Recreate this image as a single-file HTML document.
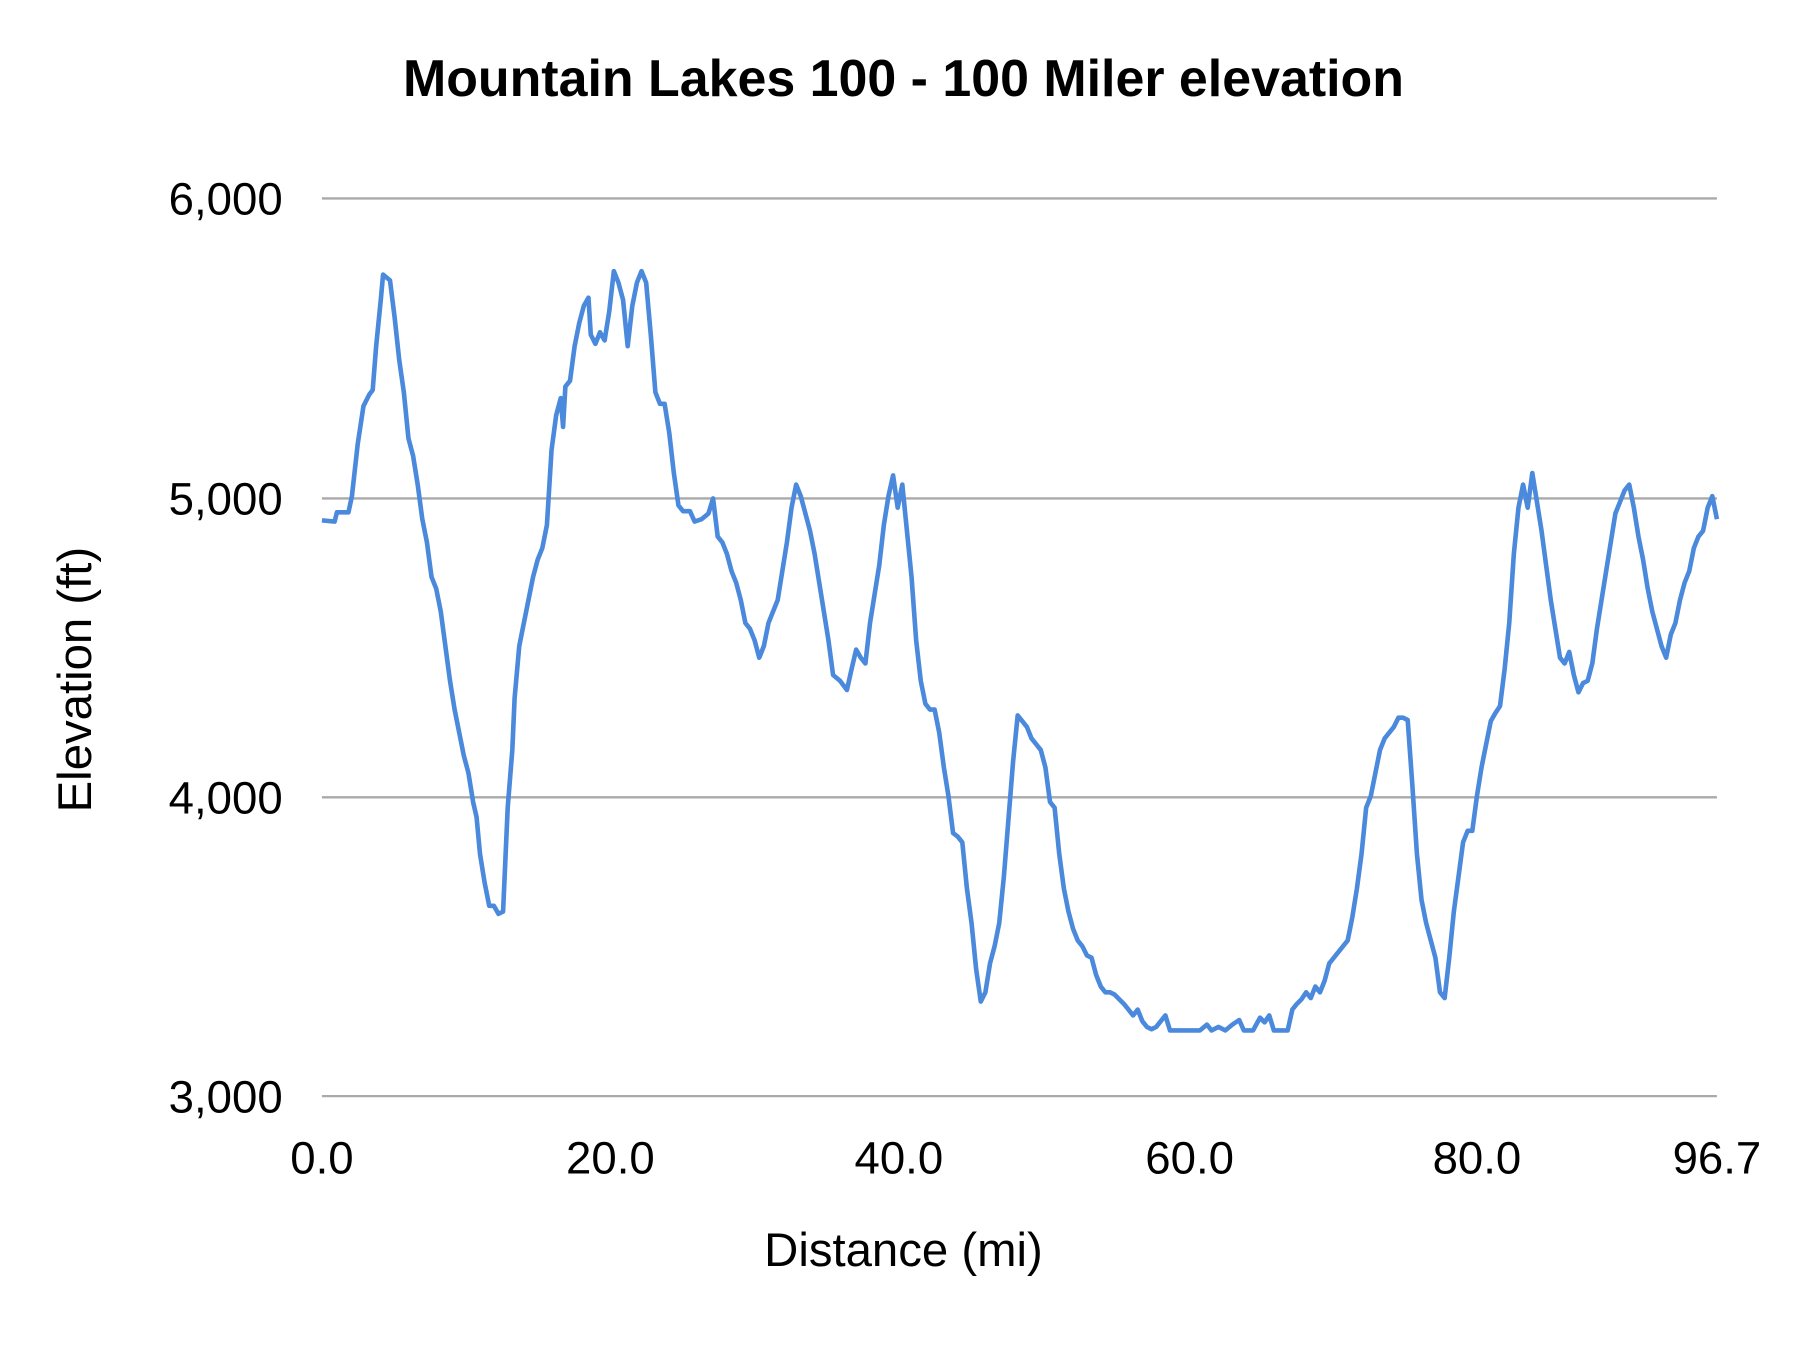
<!DOCTYPE html>
<html><head><meta charset="utf-8"><style>
html,body{margin:0;padding:0;background:#fff;}
svg{display:block;}
text{font-family:"Liberation Sans",Arial,sans-serif;fill:#000;}
</style></head><body>
<svg width="1800" height="1350" viewBox="0 0 1560 1170" xmlns="http://www.w3.org/2000/svg">
<rect width="1560" height="1170" fill="#fff"/>
<text x="783" y="83" font-size="45" font-weight="bold" text-anchor="middle">Mountain Lakes 100 - 100 Miler elevation</text>
<g stroke="#aaaaaa" stroke-width="2">
<line x1="279" y1="172" x2="1488" y2="172"/>
<line x1="279" y1="432" x2="1488" y2="432"/>
<line x1="279" y1="691" x2="1488" y2="691"/>
<line x1="279" y1="950" x2="1488" y2="950"/>
</g>
<g font-size="39.5" text-anchor="end">
<text x="245" y="186">6,000</text>
<text x="245" y="446">5,000</text>
<text x="245" y="705">4,000</text>
<text x="245" y="964">3,000</text>
</g>
<g font-size="39.5" text-anchor="middle">
<text x="279" y="1017">0.0</text>
<text x="529" y="1017">20.0</text>
<text x="779" y="1017">40.0</text>
<text x="1031" y="1017">60.0</text>
<text x="1280" y="1017">80.0</text>
<text x="1488" y="1017">96.7</text>
</g>
<text x="783" y="1097" font-size="41" text-anchor="middle">Distance (mi)</text>
<text transform="translate(79,589) rotate(-90)" font-size="41" text-anchor="middle">Elevation (ft)</text>
<polyline fill="none" stroke="#4a89dc" stroke-width="4" stroke-linejoin="round" points="279,451 290,452 292,444 302,444 305,430 310,385 315,352 320,342 323,338 326,300 330,260 332,238 338,243 342,275 346,312 350,340 354,380 358,395 362,420 366,450 370,470 374,500 378,510 382,530 386,560 390,590 394,615 398,635 402,655 406,670 410,695 413,708 416,740 420,765 424,785 428,785 432,792 436,790 440,700 444,650 446,605 450,560 454,540 458,520 462,500 466,485 470,475 474,455 478,390 482,360 486,345 488,370 490,335 494,330 498,300 502,280 506,265 510,258 512,290 516,298 520,288 524,295 528,270 532,235 536,245 540,260 544,300 548,265 552,245 556,235 560,245 564,290 568,340 572,350 576,350 580,375 584,410 588,438 592,443 598,443 602,452 608,450 614,445 618,432 622,465 626,470 630,480 634,495 638,505 642,520 646,540 650,545 654,555 658,570 662,560 666,540 670,530 674,520 678,495 682,470 686,440 690,420 694,430 698,445 702,460 706,480 710,505 714,530 718,555 722,585 728,590 734,598 738,580 742,563 746,570 750,575 754,540 758,515 762,490 766,455 770,430 774,412 778,440 782,420 786,460 790,500 794,555 798,590 802,610 806,615 810,615 814,635 818,665 822,690 826,722 830,725 834,730 838,770 842,800 846,840 850,868 854,860 858,835 862,820 866,800 870,760 874,710 878,660 882,620 886,625 890,630 894,640 898,645 902,650 906,665 910,695 914,700 918,740 922,770 926,790 930,805 934,815 938,820 942,828 946,830 950,845 954,855 958,860 962,860 966,862 970,866 974,870 978,875 982,880 986,875 990,885 994,890 998,892 1002,890 1006,885 1010,880 1014,893 1020,893 1030,893 1040,893 1046,888 1050,893 1056,890 1062,893 1068,888 1074,884 1078,893 1086,893 1092,882 1096,886 1100,880 1104,893 1116,893 1120,875 1124,870 1128,866 1132,860 1136,865 1140,855 1144,860 1148,850 1152,835 1156,830 1160,825 1164,820 1168,815 1172,795 1176,770 1180,740 1184,700 1188,690 1192,670 1196,650 1200,640 1204,635 1208,630 1212,622 1216,622 1220,624 1224,680 1228,740 1232,780 1236,800 1240,815 1244,830 1248,860 1252,865 1256,830 1260,790 1264,760 1268,730 1272,720 1276,720 1280,690 1284,665 1288,645 1292,625 1296,618 1300,612 1304,580 1308,540 1312,480 1316,440 1320,420 1324,440 1328,410 1332,435 1336,460 1340,490 1344,520 1348,545 1352,570 1356,575 1360,565 1364,585 1368,600 1372,592 1376,590 1380,575 1384,545 1388,520 1392,495 1396,470 1400,445 1404,435 1408,425 1412,420 1416,440 1420,465 1424,485 1428,510 1432,530 1436,545 1440,560 1444,570 1448,550 1452,540 1456,520 1460,505 1464,495 1468,475 1472,465 1476,460 1480,440 1484,430 1488,450"/>
</svg>
</body></html>
